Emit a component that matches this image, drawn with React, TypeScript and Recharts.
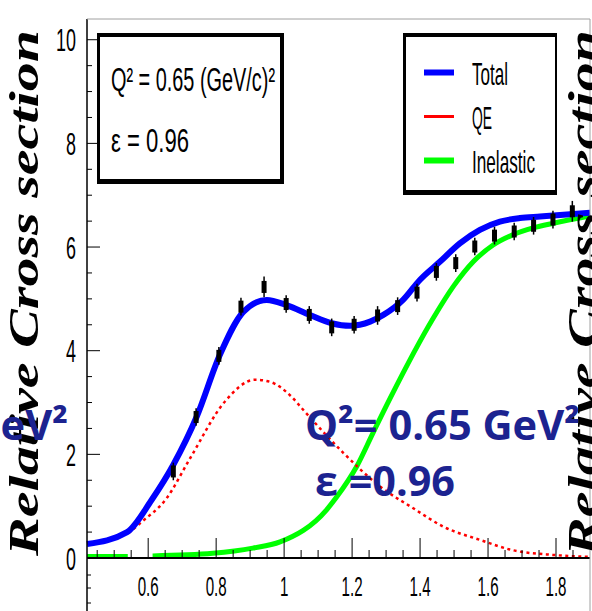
import React from 'react';
import { ComposedChart, Line, Scatter, XAxis, YAxis, ErrorBar } from 'recharts';

// Curves: [W-like variable, relative cross section]
const totalCurve: [number, number][] = [
  [0.42, 0.27], [0.538, 0.5], [0.61, 1.12], [0.674, 1.8], [0.743, 2.73], [0.811, 3.92],
  [0.88, 4.75], [0.949, 4.98], [1.007, 4.88], [1.076, 4.69], [1.14, 4.53], [1.194, 4.48],
  [1.253, 4.56], [1.292, 4.69], [1.35, 4.98], [1.4, 5.37], [1.459, 5.72], [1.517, 6.07],
  [1.576, 6.33], [1.635, 6.49], [1.694, 6.56], [1.753, 6.59], [1.812, 6.62], [1.9, 6.66],
];

const qeCurve: [number, number][] = [
  [0.542, 0.48], [0.576, 0.67], [0.654, 1.15], [0.723, 1.92], [0.826, 3.02], [0.914, 3.44],
  [0.958, 3.4], [1.022, 3.11], [1.056, 2.86], [1.174, 2.03], [1.282, 1.38], [1.38, 0.96],
  [1.47, 0.6], [1.576, 0.35], [1.673, 0.15], [1.79, 0.06], [1.9, 0.02],
];

const inelasticCurve: [number, number | null][] = [
  [0.42, 0.03], [0.54, 0.03], [0.575, null], [0.613, 0.04], [0.79, 0.09], [0.908, 0.19],
  [0.988, 0.31], [1.125, 0.93], [1.155, 1.18], [1.213, 1.76], [1.262, 2.42], [1.311, 3.07],
  [1.439, 4.63], [1.498, 5.24], [1.557, 5.72], [1.615, 6.04], [1.674, 6.24], [1.733, 6.37],
  [1.792, 6.46], [1.9, 6.6],
];

// Measured points
const dataX = [0.674, 0.741, 0.808, 0.873, 0.941, 1.006, 1.074, 1.14, 1.206, 1.275,
  1.334, 1.391, 1.448, 1.505, 1.561, 1.619, 1.677, 1.734, 1.791, 1.848];
const dataY = [1.67, 2.72, 3.9, 4.85, 5.23, 4.9, 4.69, 4.45, 4.5, 4.68,
  4.86, 5.12, 5.52, 5.69, 6.01, 6.22, 6.3, 6.41, 6.53, 6.69];
const dataErr = [0.17, 0.17, 0.17, 0.17, 0.2, 0.17, 0.17, 0.17, 0.17, 0.18,
  0.17, 0.17, 0.17, 0.17, 0.17, 0.17, 0.17, 0.17, 0.17, 0.2];

// Axis ticks
const xTickValues = [0.45, 0.5, 0.55, 0.6, 0.65, 0.7, 0.75, 0.8, 0.85, 0.9, 0.95, 1.0,
  1.05, 1.1, 1.15, 1.2, 1.25, 1.3, 1.35, 1.4, 1.45, 1.5, 1.55, 1.6, 1.65, 1.7, 1.75, 1.8, 1.85];
const xLabelValues = [0.6, 0.8, 1.0, 1.2, 1.4, 1.6, 1.8];
const xLabelTexts = ['0.6', '0.8', '1', '1.2', '1.4', '1.6', '1.8'];

const yTickValues = [0, 0.5, 1, 1.5, 2, 2.5, 3, 3.5, 4, 4.5, 5, 5.5, 6, 6.5, 7, 7.5, 8,
  8.5, 9, 9.5, 10];
const yLabelValues = [0, 2, 4, 6, 8, 10];
const yLabelTexts = ['0', '2', '4', '6', '8', '10'];

const legendNames = ['Total', 'QE', 'Inelastic'];
const legendColors = ['#0000ff', '#ff0000', '#00ff00'];
const legendWidths = [6, 3, 6];
const legendTextWidths = [36, 20, 63];

const toPoints = (arr: [number, number | null][]) => arr.map(([x, y]) => ({ x, y }));
const measured = dataX.map((x, i) => ({ x, y: dataY[i], err: dataErr[i] }));

const ROOT_FONT = '"Liberation Sans", Arial, sans-serif';

const findLabel = (vals: number[], texts: string[], v: number) => {
  const i = vals.findIndex((a) => Math.abs(a - v) < 1e-6);
  return i >= 0 ? texts[i] : null;
};

const XTick = (props: any) => {
  const { x, y, payload } = props;
  const label = findLabel(xLabelValues, xLabelTexts, payload.value);
  const len = label ? 20 : 8;
  return (
    <g>
      <line x1={x} y1={y} x2={x} y2={y - len} stroke="#000" strokeWidth={1} />
      {label && (
        <text
          transform={`translate(${x} ${y + 38}) scale(0.56 1)`}
          textAnchor="middle"
          fontFamily={ROOT_FONT}
          fontSize={27}
          fill="#000"
        >
          {label}
        </text>
      )}
    </g>
  );
};

const YTick = (props: any) => {
  const { x, y, payload } = props;
  const label = findLabel(yLabelValues, yLabelTexts, payload.value);
  const len = label ? 13 : 5;
  return (
    <g>
      <line x1={x} y1={y} x2={x + len} y2={y} stroke="#000" strokeWidth={1} />
      {label && (
        <text
          transform={`translate(${x - 11} ${y + 11.5}) scale(0.56 1)`}
          textAnchor="end"
          fontFamily={ROOT_FONT}
          fontSize={32}
          fill="#000"
        >
          {label}
        </text>
      )}
    </g>
  );
};

const PointMark = (props: any) => {
  const { cx, cy } = props;
  return <rect x={cx - 2.5} y={cy - 6} width={5} height={12} fill="#000" />;
};

const NAVY = '#1c2390';
const TITLE = 'Relative Cross section';
const SERIF = '"Liberation Serif", "Times New Roman", serif';
const OVERLAY_FONT = '"Open Sans", "Noto Sans", sans-serif';

export default function App() {
  return (
    <div
      style={{
        position: 'absolute',
        left: 0,
        top: 0,
        width: 592,
        height: 611,
        background: '#fff',
        overflow: 'hidden',
      }}
    >
      <ComposedChart width={592} height={611} margin={{ top: 19, right: 2, bottom: 0, left: 0 }}>
        <XAxis
          type="number"
          dataKey="x"
          domain={[0.42, 1.9]}
          ticks={xTickValues}
          interval={0}
          height={53}
          tickSize={0}
          tickMargin={0}
          tickLine={false}
          axisLine={{ stroke: '#000', strokeWidth: 2 }}
          tick={<XTick />}
        />
        <YAxis
          type="number"
          dataKey="y"
          domain={[0, 10.4]}
          ticks={yTickValues}
          interval={0}
          width={87}
          tickSize={0}
          tickMargin={0}
          tickLine={false}
          axisLine={{ stroke: '#000', strokeWidth: 1.5 }}
          tick={<YTick />}
        />
        <Line
          data={toPoints(inelasticCurve)}
          dataKey="y"
          type="monotone"
          stroke="#00ff00"
          strokeWidth={5}
          dot={false}
          connectNulls={false}
          isAnimationActive={false}
        />
        <Line
          data={toPoints(qeCurve)}
          dataKey="y"
          type="monotone"
          stroke="#ff0000"
          strokeWidth={2.5}
          strokeDasharray="3 3.5"
          dot={false}
          isAnimationActive={false}
        />
        <Line
          data={toPoints(totalCurve)}
          dataKey="y"
          type="monotone"
          stroke="#0000ff"
          strokeWidth={6}
          dot={false}
          isAnimationActive={false}
        />
        <Scatter data={measured} dataKey="y" shape={<PointMark />} isAnimationActive={false}>
          <ErrorBar dataKey="err" direction="y" width={0} stroke="#000" strokeWidth={1.5} />
        </Scatter>
      </ComposedChart>

      <svg
        width={592}
        height={611}
        style={{ position: 'absolute', left: 0, top: 0, pointerEvents: 'none' }}
      >
        {/* frame */}
        <line x1={87} y1={19} x2={590} y2={19} stroke="#a0a0a0" strokeWidth={1} />
        <line x1={590} y1={19} x2={590} y2={611} stroke="#a0a0a0" strokeWidth={1} />
        {/* axis continuation below zero */}
        <line x1={87} y1={558} x2={87} y2={611} stroke="#000" strokeWidth={1.5} />
        {[575, 588, 603].map((yy) => (
          <line key={yy} x1={87} y1={yy} x2={91} y2={yy} stroke="#000" strokeWidth={1} />
        ))}

        {/* kinematics box */}
        <rect x={97} y={33} width={187} height={151} fill="#000" />
        <rect x={100} y={37} width={180} height={142} fill="#fff" />
        <text
          x={111}
          y={91}
          fontFamily={ROOT_FONT}
          fontSize={34}
          textLength={164}
          lengthAdjust="spacingAndGlyphs"
          fill="#000"
        >
          Q² = 0.65 (GeV/c)²
        </text>
        <text
          x={111}
          y={152}
          fontFamily={ROOT_FONT}
          fontSize={34}
          textLength={78}
          lengthAdjust="spacingAndGlyphs"
          fill="#000"
        >
          ε = 0.96
        </text>

        {/* legend */}
        <rect x={403} y={33} width={154} height={162} fill="#000" />
        <rect x={406} y={37} width={149} height={153} fill="#fff" />
        {legendNames.map((name, i) => {
          const cy = 72.5 + i * 44;
          return (
            <g key={name}>
              <line x1={424} y1={cy} x2={454} y2={cy} stroke={legendColors[i]} strokeWidth={legendWidths[i]} />
              <text
                x={472}
                y={cy + 12}
                fontFamily={ROOT_FONT}
                fontSize={32}
                textLength={legendTextWidths[i]}
                lengthAdjust="spacingAndGlyphs"
                fill="#000"
              >
                {name}
              </text>
            </g>
          );
        })}

        {/* y titles */}
        <text
          transform="translate(38 556) rotate(-90)"
          fontFamily={SERIF}
          fontStyle="italic"
          fontWeight="bold"
          fontSize={42}
          textLength={526}
          lengthAdjust="spacingAndGlyphs"
          fill="#000"
        >
          {TITLE}
        </text>
        <text
          transform="translate(597 556) rotate(-90)"
          fontFamily={SERIF}
          fontStyle="italic"
          fontWeight="bold"
          fontSize={42}
          textLength={526}
          lengthAdjust="spacingAndGlyphs"
          fill="#000"
        >
          {TITLE}
        </text>

        {/* overlay labels */}
        <text
          x={305}
          y={440}
          fontFamily={OVERLAY_FONT}
          fontWeight={700}
          fontSize={42}
          textLength={275}
          lengthAdjust="spacingAndGlyphs"
          fill={NAVY}
        >
          Q²= 0.65 GeV²
        </text>
        <text
          x={315}
          y={496}
          fontFamily={OVERLAY_FONT}
          fontWeight={700}
          fontSize={42}
          textLength={140}
          lengthAdjust="spacingAndGlyphs"
          fill={NAVY}
        >
          ε =0.96
        </text>
        <text
          x={-207}
          y={440}
          fontFamily={OVERLAY_FONT}
          fontWeight={700}
          fontSize={42}
          textLength={275}
          lengthAdjust="spacingAndGlyphs"
          fill={NAVY}
        >
          Q²= 0.65 GeV²
        </text>
      </svg>
    </div>
  );
}
